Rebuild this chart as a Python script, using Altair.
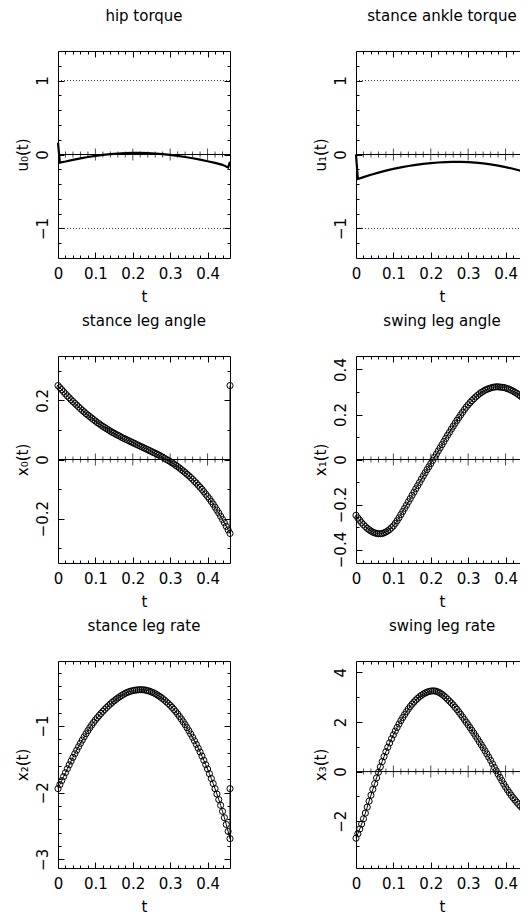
import altair as alt
import pandas as pd

FONT = "DejaVu Sans"
W, H = 172, 207
XDOM = [0.0, 0.46]
T_END = 0.46

# ---- time grid of the state trajectories ----
T = [0.000, 0.005, 0.010, 0.015, 0.020, 0.025, 0.030, 0.035, 0.040, 0.045,
     0.050, 0.055, 0.060, 0.065, 0.070, 0.075, 0.080, 0.085, 0.090, 0.095,
     0.100, 0.105, 0.110, 0.115, 0.120, 0.125, 0.130, 0.135, 0.140, 0.145,
     0.150, 0.155, 0.160, 0.165, 0.170, 0.175, 0.180, 0.185, 0.190, 0.195,
     0.200, 0.205, 0.210, 0.215, 0.220, 0.225, 0.230, 0.235, 0.240, 0.245,
     0.250, 0.255, 0.260, 0.265, 0.270, 0.275, 0.280, 0.285, 0.290, 0.295,
     0.300, 0.305, 0.310, 0.315, 0.320, 0.325, 0.330, 0.335, 0.340, 0.345,
     0.350, 0.355, 0.360, 0.365, 0.370, 0.375, 0.380, 0.385, 0.390, 0.395,
     0.400, 0.405, 0.410, 0.415, 0.420, 0.425, 0.430, 0.435, 0.440, 0.445,
     0.450, 0.455, 0.460]

X0 = [0.250, 0.243, 0.236, 0.229, 0.222, 0.215, 0.209, 0.202, 0.196, 0.190,
      0.184, 0.178, 0.172, 0.166, 0.161, 0.155, 0.150, 0.145, 0.140, 0.135,
      0.130, 0.125, 0.121, 0.116, 0.112, 0.108, 0.104, 0.100, 0.096, 0.092,
      0.089, 0.085, 0.082, 0.079, 0.075, 0.072, 0.069, 0.066, 0.063, 0.060,
      0.057, 0.054, 0.051, 0.048, 0.045, 0.042, 0.039, 0.036, 0.033, 0.030,
      0.027, 0.024, 0.021, 0.018, 0.015, 0.011, 0.008, 0.004, 0.000, -0.003,
      -0.007, -0.011, -0.015, -0.020, -0.024, -0.029, -0.034, -0.039, -0.044, -0.050,
      -0.055, -0.061, -0.067, -0.074, -0.080, -0.087, -0.094, -0.101, -0.109, -0.117,
      -0.125, -0.133, -0.142, -0.151, -0.161, -0.171, -0.181, -0.192, -0.203, -0.214,
      -0.226, -0.238, -0.250]

X1 = [-0.248, -0.260, -0.270, -0.281, -0.290, -0.298, -0.306, -0.312, -0.318, -0.323,
      -0.326, -0.329, -0.330, -0.330, -0.329, -0.326, -0.322, -0.317, -0.311, -0.303,
      -0.295, -0.284, -0.272, -0.259, -0.245, -0.231, -0.217, -0.203, -0.188, -0.174,
      -0.159, -0.145, -0.130, -0.116, -0.102, -0.087, -0.073, -0.059, -0.045, -0.032,
      -0.018, -0.004, 0.010, 0.024, 0.038, 0.052, 0.066, 0.080, 0.094, 0.108,
      0.121, 0.135, 0.148, 0.161, 0.174, 0.186, 0.198, 0.210, 0.222, 0.233,
      0.243, 0.253, 0.262, 0.270, 0.278, 0.285, 0.292, 0.298, 0.303, 0.308,
      0.312, 0.315, 0.318, 0.320, 0.322, 0.323, 0.323, 0.322, 0.321, 0.320,
      0.318, 0.315, 0.312, 0.308, 0.304, 0.299, 0.294, 0.288, 0.282, 0.275,
      0.267, 0.259, 0.250]

X2 = [-1.940, -1.879, -1.819, -1.759, -1.700, -1.641, -1.583, -1.526, -1.470, -1.416,
      -1.363, -1.311, -1.260, -1.211, -1.162, -1.115, -1.070, -1.027, -0.986, -0.947,
      -0.910, -0.876, -0.843, -0.811, -0.780, -0.751, -0.723, -0.696, -0.670, -0.646,
      -0.623, -0.601, -0.580, -0.561, -0.543, -0.526, -0.510, -0.497, -0.486, -0.477,
      -0.470, -0.464, -0.460, -0.457, -0.455, -0.456, -0.458, -0.463, -0.470, -0.479,
      -0.489, -0.501, -0.515, -0.532, -0.550, -0.569, -0.590, -0.613, -0.638, -0.663,
      -0.690, -0.720, -0.752, -0.785, -0.820, -0.858, -0.897, -0.938, -0.980, -1.025,
      -1.072, -1.120, -1.170, -1.222, -1.276, -1.332, -1.390, -1.451, -1.514, -1.579,
      -1.645, -1.715, -1.788, -1.863, -1.940, -2.021, -2.104, -2.190, -2.280, -2.376,
      -2.477, -2.581, -2.690]

X3 = [-2.680, -2.500, -2.310, -2.110, -1.900, -1.670, -1.430, -1.190, -0.950, -0.715,
      -0.485, -0.255, -0.030, 0.190, 0.400, 0.605, 0.800, 0.980, 1.155, 1.320,
      1.480, 1.630, 1.775, 1.915, 2.050, 2.175, 2.295, 2.410, 2.520, 2.620,
      2.715, 2.800, 2.880, 2.950, 3.015, 3.070, 3.120, 3.160, 3.195, 3.222,
      3.240, 3.248, 3.246, 3.230, 3.200, 3.160, 3.110, 3.050, 2.980, 2.910,
      2.835, 2.760, 2.680, 2.590, 2.500, 2.400, 2.300, 2.195, 2.090, 1.985,
      1.880, 1.770, 1.660, 1.545, 1.430, 1.315, 1.195, 1.078, 0.960, 0.835,
      0.710, 0.580, 0.450, 0.310, 0.170, 0.035, -0.100, -0.235, -0.365, -0.495,
      -0.620, -0.735, -0.845, -0.950, -1.050, -1.142, -1.232, -1.318, -1.400, -1.475,
      -1.548, -1.615, -1.680]

# value each state is reset to at the end of the step
X_RESET = [0.250, -0.248, -1.940, -2.680]

# ---- controls ----
TU = [0.0, 0.005, 0.02, 0.04, 0.06, 0.08, 0.10, 0.12, 0.14, 0.16, 0.18, 0.20, 0.22,
      0.24, 0.26, 0.28, 0.30, 0.32, 0.34, 0.36, 0.38, 0.40, 0.42, 0.44, 0.455, 0.46]
U0 = [0.16, -0.11, -0.095, -0.072, -0.052, -0.034, -0.018, -0.005, 0.005, 0.013, 0.019,
      0.022, 0.022, 0.019, 0.013, 0.005, -0.006, -0.019, -0.034, -0.051, -0.070, -0.091,
      -0.114, -0.140, -0.175, -0.10]
U1 = [0.0, -0.331, -0.306, -0.274, -0.245, -0.219, -0.195, -0.174, -0.156, -0.140,
      -0.127, -0.116, -0.108, -0.103, -0.100, -0.100, -0.104, -0.110, -0.120, -0.134,
      -0.150, -0.170, -0.193, -0.220, -0.242, 0.0]
U_BOUNDS = [-1.0, 1.0]

# ---- axis tick values ----
X_LABELS = [0.0, 0.1, 0.2, 0.3, 0.4]
X_MAJOR = [0.1, 0.2, 0.3, 0.4]
X_MINOR = [0.02, 0.04, 0.06, 0.08, 0.12, 0.14, 0.16, 0.18, 0.22, 0.24, 0.26, 0.28,
           0.32, 0.34, 0.36, 0.38, 0.42, 0.44]

TITLES = ["hip torque", "stance ankle torque", "stance leg angle",
          "swing leg angle", "stance leg rate", "swing leg rate"]
YTITLES = ["u\u2080(t)", "u\u2081(t)", "x\u2080(t)", "x\u2081(t)", "x\u2082(t)", "x\u2083(t)"]
YDOMS = [[-1.4, 1.4], [-1.4, 1.4], [-0.35, 0.35], [-0.46, 0.46],
         [-3.13, -0.025], [-3.88, 4.45]]
YMAJ = [[-1, 0, 1], [-1, 0, 1], [-0.2, 0, 0.2], [-0.4, -0.2, 0, 0.2, 0.4],
        [-3, -2, -1], [-2, 0, 2, 4]]
YMIN = [[-1.2, -0.8, -0.6, -0.4, -0.2, 0.2, 0.4, 0.6, 0.8, 1.2],
        [-1.2, -0.8, -0.6, -0.4, -0.2, 0.2, 0.4, 0.6, 0.8, 1.2],
        [-0.3, -0.1, 0.1, 0.3],
        [-0.3, -0.1, 0.1, 0.3],
        [-2.8, -2.6, -2.4, -2.2, -1.8, -1.6, -1.4, -1.2, -0.8, -0.6, -0.4, -0.2],
        [-3, -1, 1, 3]]


def tick_axis(orient, values, size):
    return alt.Axis(orient=orient, values=values, tickSize=size, offset=-size,
                    ticks=True, labels=False, domain=False, grid=False, title=None,
                    tickColor="black", tickWidth=1)


def panel(k, t_vals, v_vals, reset=None, control=False):
    ts = list(t_vals)
    vs = list(v_vals)
    if reset is not None:
        ts.append(T_END)
        vs.append(reset)
    df = pd.DataFrame({"t": ts, "v": vs, "i": list(range(len(ts)))})
    xs = alt.Scale(domain=XDOM, nice=False, zero=False)
    ys = alt.Scale(domain=YDOMS[k], nice=False, zero=False)

    def X(axis):
        return alt.X("t:Q", scale=xs, axis=axis)

    def Y(axis):
        return alt.Y("v:Q", scale=ys, axis=axis)

    lab_x = alt.Axis(orient="bottom", values=X_LABELS, format="~g", ticks=False,
                     domain=False, grid=False, labelFlush=False, labelOverlap=False,
                     labelPadding=8, labelBaseline="top", title="t",
                     titleY=43, titleBaseline="alphabetic")
    lab_y = alt.Axis(orient="left", values=YMAJ[k], format="~g", ticks=False,
                     domain=False, grid=False, labelFlush=False, labelOverlap=False,
                     labelAngle=270, labelAlign="center", labelBaseline="alphabetic",
                     labelPadding=11, title=YTITLES[k], titleX=-31,
                     titleBaseline="alphabetic", titleAngle=270)

    layers = []
    inv = alt.Chart(df).mark_point(opacity=0, size=1)
    layers.append(inv.encode(x=X(tick_axis("bottom", X_MAJOR, 6)),
                             y=Y(tick_axis("left", YMAJ[k], 6))))
    layers.append(inv.encode(x=X(tick_axis("top", X_MAJOR, 6)),
                             y=Y(tick_axis("right", YMAJ[k], 6))))
    layers.append(inv.encode(x=X(tick_axis("bottom", X_MINOR, 3)),
                             y=Y(tick_axis("left", YMIN[k], 3))))
    layers.append(inv.encode(x=X(tick_axis("top", X_MINOR, 3)),
                             y=Y(tick_axis("right", YMIN[k], 3))))

    lo, hi = YDOMS[k]
    if lo < 0 < hi:
        layers.append(alt.Chart(pd.DataFrame({"v": [0.0]}))
                      .mark_rule(color="black", strokeWidth=1)
                      .encode(y=Y(None)))
        layers.append(alt.Chart(pd.DataFrame({"t": X_MAJOR, "v": [0.0] * len(X_MAJOR)}))
                      .mark_tick(orient="vertical", color="black", thickness=1)
                      .encode(x=X(None), y=Y(None), size=alt.value(12)))
        layers.append(alt.Chart(pd.DataFrame({"t": X_MINOR, "v": [0.0] * len(X_MINOR)}))
                      .mark_tick(orient="vertical", color="black", thickness=1)
                      .encode(x=X(None), y=Y(None), size=alt.value(6)))
    if control:
        layers.append(alt.Chart(pd.DataFrame({"v": U_BOUNDS}))
                      .mark_rule(color="black", strokeWidth=0.8, strokeDash=[1, 2])
                      .encode(y=Y(None)))
        layers.append(alt.Chart(df).mark_line(color="black", strokeWidth=2.2)
                      .encode(x=X(lab_x), y=Y(lab_y), order="i:Q"))
    else:
        layers.append(alt.Chart(df).mark_line(color="black", strokeWidth=1)
                      .encode(x=X(lab_x), y=Y(lab_y), order="i:Q"))
        layers.append(alt.Chart(df).mark_point(shape="circle", filled=False, color="black",
                                               size=38, strokeWidth=1, opacity=1)
                      .encode(x=X(None), y=Y(None)))

    return (alt.layer(*layers)
            .resolve_axis(x="independent", y="independent")
            .properties(width=W, height=H,
                        title=alt.Title(TITLES[k], font=FONT, fontSize=15,
                                        fontWeight="normal", color="black",
                                        anchor="middle", baseline="alphabetic",
                                        frame="group", offset=15)))


panels = [
    panel(0, TU, U0, control=True),
    panel(1, TU, U1, control=True),
    panel(2, T, X0, reset=X_RESET[0]),
    panel(3, T, X1, reset=X_RESET[1]),
    panel(4, T, X2, reset=X_RESET[2]),
    panel(5, T, X3, reset=X_RESET[3]),
]

chart = (alt.concat(*panels, columns=2, spacing={"row": 98, "column": 126},
                    bounds="flush")
         .properties(padding={"left": 50, "top": 43, "right": 462, "bottom": 869},
                     autosize=alt.AutoSizeParams(type="none"))
         .configure_view(stroke="black", strokeWidth=1)
         .configure_axis(labelFont=FONT, labelFontSize=15, labelColor="black",
                         titleFont=FONT, titleFontSize=15, titleColor="black",
                         titleFontWeight="normal", tickColor="black", grid=False))

chart.save("out.html", embed_options={"renderer": "svg", "actions": False})
